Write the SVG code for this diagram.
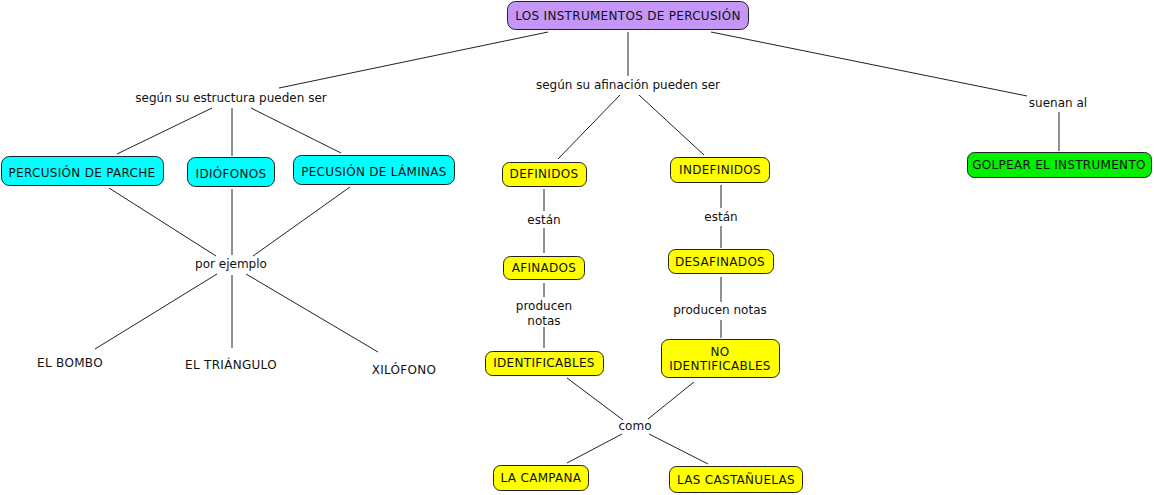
<svg xmlns="http://www.w3.org/2000/svg" width="1154" height="495" viewBox="0 0 1154 495">
<style>
text{font-family:"DejaVu Sans",Verdana,sans-serif;font-size:12px;fill:#111;text-anchor:middle}
.u{letter-spacing:0.3px}
.b{stroke:#222;stroke-width:1}
.p{fill:#C496F6}.c{fill:#00FFFF}.y{fill:#FFFF00}.g{fill:#00F000}
#connectors line{stroke:#222;stroke-width:1}
</style>
<rect width="1154" height="495" fill="#fff"/>
<g id="connectors">
<line x1="548" y1="32" x2="279" y2="88"/>
<line x1="628" y1="32" x2="628" y2="76"/>
<line x1="711" y1="32" x2="1027" y2="96"/>
<line x1="212" y1="108" x2="117" y2="154"/>
<line x1="232" y1="108" x2="232" y2="156"/>
<line x1="251" y1="108" x2="341" y2="153"/>
<line x1="109" y1="188" x2="216" y2="256"/>
<line x1="232" y1="189" x2="232" y2="255"/>
<line x1="350" y1="187" x2="253" y2="256"/>
<line x1="217" y1="274" x2="95" y2="349"/>
<line x1="232" y1="275" x2="232" y2="348"/>
<line x1="246" y1="274" x2="378" y2="352"/>
<line x1="620" y1="95" x2="558" y2="159"/>
<line x1="639" y1="95" x2="704" y2="155"/>
<line x1="544" y1="189" x2="544" y2="211"/>
<line x1="544" y1="228" x2="544" y2="253"/>
<line x1="721" y1="185" x2="721" y2="208"/>
<line x1="721" y1="226" x2="721" y2="248"/>
<line x1="544" y1="283" x2="544" y2="297"/>
<line x1="544" y1="327" x2="544" y2="348"/>
<line x1="721" y1="277" x2="721" y2="302"/>
<line x1="721" y1="320" x2="721" y2="338"/>
<line x1="567" y1="378" x2="623" y2="420"/>
<line x1="694" y1="382" x2="648" y2="419"/>
<line x1="622" y1="434" x2="567" y2="463"/>
<line x1="649" y1="434" x2="708" y2="464"/>
<line x1="1059" y1="112" x2="1059" y2="151"/>
</g>
<g id="n-root"><rect class="b p" x="507.5" y="1.5" width="241" height="28" rx="8"/><text class="u" x="628" y="20">LOS INSTRUMENTOS DE PERCUSIÓN</text></g>
<g id="l-estructura"><text x="231" y="102">según su estructura pueden ser</text></g>
<g id="l-afinacion"><text x="628" y="89">según su afinación pueden ser</text></g>
<g id="l-suenan"><text x="1058" y="107">suenan al</text></g>
<g id="n-parche"><rect class="b c" x="1.5" y="156.5" width="162" height="29" rx="8"/><text class="u" x="82" y="177">PERCUSIÓN DE PARCHE</text></g>
<g id="n-idiofonos"><rect class="b c" x="187.5" y="157.5" width="87" height="29" rx="8"/><text class="u" x="231" y="178">IDIÓFONOS</text></g>
<g id="n-laminas"><rect class="b c" x="293.5" y="155.5" width="161" height="29" rx="8"/><text class="u" x="374" y="176">PECUSIÓN DE LÁMINAS</text></g>
<g id="l-ejemplo"><text x="231" y="268">por ejemplo</text></g>
<g id="n-bombo"><text class="u" x="70" y="367">EL BOMBO</text></g>
<g id="n-triangulo"><text class="u" x="231" y="369">EL TRIÁNGULO</text></g>
<g id="n-xilofono"><text class="u" x="404" y="374">XILÓFONO</text></g>
<g id="n-definidos"><rect class="b y" x="502.5" y="162.5" width="84" height="24" rx="7"/><text class="u" x="544" y="178">DEFINIDOS</text></g>
<g id="n-indefinidos"><rect class="b y" x="670.5" y="157.5" width="99" height="25" rx="7"/><text class="u" x="720" y="174">INDEFINIDOS</text></g>
<g id="l-estan1"><text x="544" y="224">están</text></g>
<g id="l-estan2"><text x="721" y="221">están</text></g>
<g id="n-afinados"><rect class="b y" x="503.5" y="256.5" width="81" height="23" rx="7"/><text class="u" x="544" y="272">AFINADOS</text></g>
<g id="n-desafinados"><rect class="b y" x="668.5" y="249.5" width="105" height="24" rx="7"/><text class="u" x="720" y="266">DESAFINADOS</text></g>
<g id="l-producen1"><text x="544" y="310">producen</text><text x="544" y="325">notas</text></g>
<g id="l-producen2"><text x="720" y="314">producen notas</text></g>
<g id="n-identificables"><rect class="b y" x="485.5" y="351.5" width="118" height="24" rx="7"/><text class="u" x="544" y="367">IDENTIFICABLES</text></g>
<g id="n-noidentificables"><rect class="b y" x="661.5" y="339.5" width="118" height="38" rx="7"/><text class="u" x="720" y="356">NO</text><text class="u" x="720" y="370">IDENTIFICABLES</text></g>
<g id="l-como"><text x="635" y="430">como</text></g>
<g id="n-campana"><rect class="b y" x="493.5" y="465.5" width="95" height="25" rx="7"/><text class="u" x="541" y="482">LA CAMPANA</text></g>
<g id="n-castanuelas"><rect class="b y" x="669.5" y="466.5" width="133" height="26" rx="7"/><text class="u" x="736" y="484">LAS CASTAÑUELAS</text></g>
<g id="n-golpear"><rect class="b g" x="967.5" y="152.5" width="184" height="25" rx="7"/><text class="u" x="1059" y="169">GOLPEAR EL INSTRUMENTO</text></g>
</svg>
